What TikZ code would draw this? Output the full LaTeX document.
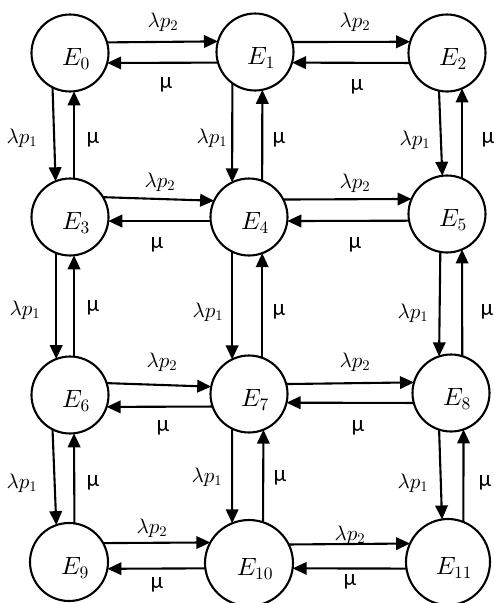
\documentclass[tikz,border=0pt]{standalone}
\usepackage{fontspec}
\newfontfamily\mufont{Carlito}
% scalable math italic and roman at any size
\DeclareFontShape{OML}{cmm}{m}{it}{<->cmmi10}{}
\DeclareFontShape{OT1}{cmr}{m}{n}{<->cmr10}{}
\usetikzlibrary{arrows.meta,shapes.geometric}

\tikzset{
  state/.style={circle, draw, line width=2.1pt, minimum size=77pt,
                inner sep=0pt, outer sep=0pt},
  wide/.style={ellipse, draw, line width=2.1pt, inner sep=0pt, outer sep=0pt},
  statename/.style={inner sep=0pt, shift={(6pt,-6pt)}, font=\fontsize{25}{28}\selectfont},
  tr/.style={line width=2.1pt, -{Triangle[length=14pt,width=12.5pt]}},
  lab/.style={inner sep=0pt, font=\fontsize{21}{24}\selectfont},
  mul/.style={inner sep=0pt, font=\mufont\fontsize{23}{26}\selectfont},
}

\begin{document}
\begin{tikzpicture}[x=1pt,y=-1pt]
\useasboundingbox (0,0) rectangle (494,603);

% states
\node[state, label={[statename]center:$E_{0}$}] (E0) at (70,53)  {};
\node[state, label={[statename]center:$E_{1}$}] (E1) at (255,52) {};
\node[state, label={[statename]center:$E_{2}$}] (E2) at (447,53) {};
\node[state, label={[statename]center:$E_{3}$}] (E3) at (70,217) {};
\node[state, label={[statename]center:$E_{4}$}] (E4) at (249,217) {};
\node[state, label={[statename]center:$E_{5}$}] (E5) at (447,214) {};
\node[state, label={[statename]center:$E_{6}$}] (E6) at (70,395) {};
\node[state, label={[statename]center:$E_{7}$}] (E7) at (249,394) {};
\node[state, label={[statename]center:$E_{8}$}] (E8) at (451,393) {};
\node[state, minimum size=78pt, label={[statename]center:$E_{9}$}] (E9) at (69,562) {};
\node[wide, minimum width=88pt, minimum height=86pt, label={[statename]center:$E_{10}$}] (E10) at (249,563) {};
\node[wide, minimum width=84pt, minimum height=86pt, label={[statename]center:$E_{11}$}] (E11) at (448,562) {};

% horizontal transitions
\draw[tr] (E0.16.6)  -- (E1.164.9);
\draw[tr] (E1.196.6) -- (E0.-15.1);
\draw[tr] (E1.15.1)  -- (E2.163.4);
\draw[tr] (E2.195.1) -- (E1.-16.6);

\draw[tr] (E3.31.3)  -- (E4.155.4);
\draw[tr] (E4.186)   -- (E3.-6);
\draw[tr] (E4.27.9)  -- (E5.157.1);
\draw[tr] (E5.190.5) -- (E4.-6);

\draw[tr] (E6.18.2)  -- (E7.169.5);
\draw[tr] (E7.199.7) -- (E6.-18.2);
\draw[tr] (E7.15.1)  -- (E8.164.9);
\draw[tr] (E8.195.1) -- (E7.-13.5);

\draw[tr] (E9.29.2)   -- (E10.152.8);
\draw[tr] (E10.187.8) -- (E9.-10.3);
\draw[tr] (E10.25.7)  -- (E11.154.7);
\draw[tr] (E11.189.6) -- (E10.-7.8);

% vertical transitions
\draw[tr] (E0.-117.9) -- (E3.112.9);
\draw[tr] (E3.84)     -- (E0.-84);
\draw[tr] (E1.-126.7) -- (E4.116.2);
\draw[tr] (E4.70.3)   -- (E1.-79.5);
\draw[tr] (E2.-102)   -- (E5.97.5);
\draw[tr] (E5.67.1)   -- (E2.-67.1);

\draw[tr] (E3.-111.3) -- (E6.111.3);
\draw[tr] (E6.84)     -- (E3.-84);
\draw[tr] (E4.-116.2) -- (E7.116.2);
\draw[tr] (E7.70.3)   -- (E4.-70.3);
\draw[tr] (E5.-100.5) -- (E8.108.2);
\draw[tr] (E8.73.4)   -- (E5.-67.1);

\draw[tr] (E6.-117.9) -- (E9.109.5);
\draw[tr] (E9.82.6)   -- (E6.-84);
\draw[tr] (E7.-116.2) -- (E10.113.2);
\draw[tr] (E10.71.05) -- (E7.-68.7);
\draw[tr] (E8.-108.2) -- (E11.98);
\draw[tr] (E11.69.5)  -- (E8.-71.8);

% rates on horizontal transitions
\node[lab] (a1) at (163,22)  {$\lambda p_2$};
\node[lab] (a2) at (355,22)  {$\lambda p_2$};
\node[lab] (a3) at (160,182) {$\lambda p_2$};
\node[lab] (a4) at (355,183) {$\lambda p_2$};
\node[lab] (a5) at (162,362) {$\lambda p_2$};
\node[lab] (a6) at (355,362) {$\lambda p_2$};
\node[lab] (a7) at (152,528) {$\lambda p_2$};
\node[lab] (a8) at (350,535) {$\lambda p_2$};

\node[mul] (m1) at (166,85)  {μ};
\node[mul] (m2) at (357,87)  {μ};
\node[mul] (m3) at (157,245) {μ};
\node[mul] (m4) at (355,245) {μ};
\node[mul] (m5) at (163,428) {μ};
\node[mul] (m6) at (358,428) {μ};
\node[mul] (m7) at (157,585) {μ};
\node[mul] (m8) at (350,582) {μ};

% rates on vertical transitions
\node[lab] (b1) at (22,138)  {$\lambda p_1$};
\node[lab] (b2) at (212,138) {$\lambda p_1$};
\node[lab] (b3) at (415,140) {$\lambda p_1$};
\node[lab] (b4) at (25,310)  {$\lambda p_1$};
\node[lab] (b5) at (208,312) {$\lambda p_1$};
\node[lab] (b6) at (413,313) {$\lambda p_1$};
\node[lab] (b7) at (22,483)  {$\lambda p_1$};
\node[lab] (b8) at (207,477) {$\lambda p_1$};
\node[lab] (b9) at (413,483) {$\lambda p_1$};

\node[mul] (n1) at (93,140)  {μ};
\node[mul] (n2) at (279,140) {μ};
\node[mul] (n3) at (488,140) {μ};
\node[mul] (n4) at (93,308)  {μ};
\node[mul] (n5) at (279,312) {μ};
\node[mul] (n6) at (487,312) {μ};
\node[mul] (n7) at (93,483)  {μ};
\node[mul] (n8) at (280,478) {μ};
\node[mul] (n9) at (485,483) {μ};
\end{tikzpicture}
\end{document}
